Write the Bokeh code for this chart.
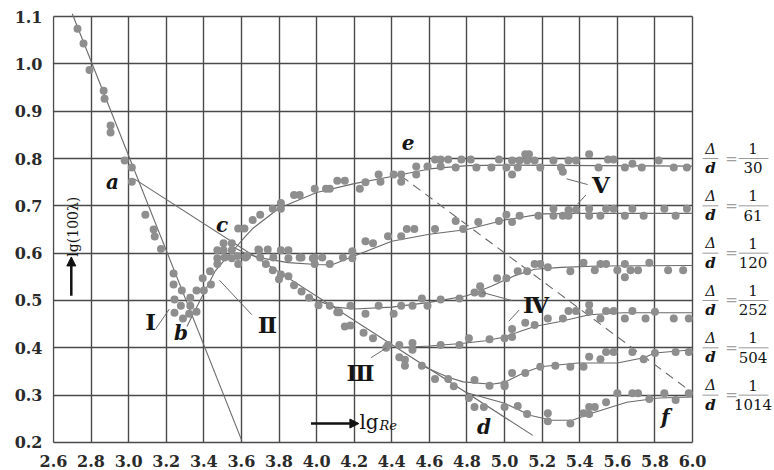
import math
from bokeh.plotting import figure
from bokeh.models import Range1d, FixedTicker, Arrow, NormalHead
from bokeh.core.properties import value
from bokeh.embed import file_html
from bokeh.resources import INLINE

# ---------------- data ----------------
x_ticks = [2.6, 2.8, 3.0, 3.2, 3.4, 3.6, 3.8, 4.0, 4.2, 4.4, 4.6, 4.8, 5.0, 5.2, 5.4, 5.6, 5.8, 6.0]
x_tick_labels = ["2.6", "2.8", "3.0", "3.2", "3.4", "3.6", "3.8", "4.0", "4.2", "4.4",
                 "4.6", "4.8", "5.0", "5.2", "5.4", "5.6", "5.8", "6.0"]
y_ticks = [0.2, 0.3, 0.4, 0.5, 0.6, 0.7, 0.8, 0.9, 1.0, 1.1]
y_tick_labels = ["0.2", "0.3", "0.4", "0.5", "0.6", "0.7", "0.8", "0.9", "1.0", "1.1"]

# straight lines
laminar_x = [2.70, 3.60]
laminar_y = [1.106, 0.206]
blasius_x = [3.03, 5.15]
blasius_y = [0.757, 0.215]
dash_ef_x = [4.45, 6.0]
dash_ef_y = [0.763, 0.305]

# fitted curves per relative roughness
c30_x = [3.31, 3.38, 3.46, 3.53, 3.57, 3.62, 3.66, 3.8, 4.0, 4.2, 4.4, 4.6, 4.8, 5.0, 5.5, 6.0]
c30_y = [0.445, 0.50, 0.562, 0.595, 0.612, 0.635, 0.652, 0.695, 0.728, 0.747, 0.762, 0.778, 0.785, 0.786, 0.785, 0.784]
c61_x = [3.56, 3.62, 3.7, 3.85, 4.0, 4.08, 4.2, 4.4, 4.6, 4.8, 5.0, 5.2, 5.4, 6.0]
c61_y = [0.612, 0.600, 0.590, 0.580, 0.576, 0.575, 0.594, 0.625, 0.640, 0.650, 0.670, 0.683, 0.684, 0.684]
c120_x = [3.97, 4.1, 4.2, 4.4, 4.6, 4.8, 4.93, 5.05, 5.16, 5.3, 5.5, 6.0]
c120_y = [0.505, 0.486, 0.482, 0.486, 0.496, 0.510, 0.530, 0.552, 0.566, 0.570, 0.573, 0.574]
c252_x = [4.43, 4.6, 4.77, 4.9, 5.0, 5.1, 5.16, 5.29, 5.45, 5.63, 6.0]
c252_y = [0.400, 0.404, 0.409, 0.415, 0.423, 0.437, 0.445, 0.455, 0.470, 0.474, 0.474]
c504_x = [4.56, 4.7, 4.78, 4.93, 5.0, 5.1, 5.19, 5.39, 5.6, 5.74, 5.8, 6.0]
c504_y = [0.362, 0.338, 0.328, 0.323, 0.327, 0.347, 0.360, 0.368, 0.368, 0.379, 0.389, 0.396]
c1014_x = [4.8, 5.0, 5.14, 5.25, 5.36, 5.48, 5.65, 5.82, 6.0]
c1014_y = [0.305, 0.283, 0.257, 0.247, 0.247, 0.264, 0.285, 0.294, 0.296]

# measured points
pI_x = [2.728, 2.76, 2.792, 2.867, 2.872, 2.904, 2.904, 2.979, 3.017, 3.017, 3.089,
        3.133, 3.139, 3.172, 3.239, 3.239, 3.283, 3.244, 3.278, 3.244, 3.289]
pI_y = [1.074, 1.043, 0.987, 0.943, 0.926, 0.870, 0.855, 0.796, 0.781, 0.751, 0.681,
        0.650, 0.635, 0.609, 0.557, 0.534, 0.521, 0.502, 0.489, 0.474, 0.462]
pII_x = [3.322, 3.328, 3.328, 3.361, 3.361, 3.394, 3.40, 3.438, 3.433, 3.472,
         3.472, 3.472, 3.505, 3.549, 3.505, 3.549, 3.511, 3.549, 3.583, 3.622]
pII_y = [0.472, 0.506, 0.489, 0.476, 0.521, 0.547, 0.521, 0.534, 0.562, 0.577,
         0.589, 0.606, 0.621, 0.621, 0.606, 0.606, 0.591, 0.589, 0.577, 0.591]
pIII_x = [3.73, 3.767, 3.80, 3.81, 3.85, 3.88, 3.92, 3.96, 4.01, 4.12, 4.15, 4.18,
          4.25, 4.30, 4.37, 4.38, 4.44, 4.47, 4.47, 4.56, 4.63, 4.70, 4.73]
pIII_y = [0.577, 0.564, 0.545, 0.555, 0.551, 0.532, 0.519, 0.506, 0.490, 0.475, 0.445, 0.447,
          0.432, 0.420, 0.400, 0.406, 0.380, 0.375, 0.362, 0.362, 0.334, 0.334, 0.319]
p30_x = [3.583, 3.616, 3.66, 3.70, 3.767, 3.81, 3.81, 3.88, 3.91, 3.99, 4.05, 4.07, 4.11, 4.15,
         4.23, 4.26, 4.33, 4.34, 4.41, 4.45, 4.45, 4.53, 4.53, 4.59, 4.63, 4.66, 4.70, 4.66,
         4.74, 4.77, 4.82, 4.85, 4.93, 4.97, 5.01, 5.04, 5.04, 5.08, 5.07, 5.11, 5.13, 5.12,
         5.16, 5.19, 5.26, 5.30, 5.31, 5.34, 5.38, 5.45, 5.50, 5.55, 5.58, 5.64, 5.68, 5.73,
         5.82, 5.90, 5.97]
p30_y = [0.652, 0.652, 0.670, 0.681, 0.694, 0.706, 0.694, 0.723, 0.723, 0.736, 0.736, 0.736, 0.753, 0.753,
         0.736, 0.750, 0.766, 0.751, 0.766, 0.766, 0.751, 0.783, 0.766, 0.783, 0.798, 0.798, 0.798, 0.783,
         0.781, 0.798, 0.798, 0.781, 0.781, 0.798, 0.781, 0.766, 0.796, 0.796, 0.781, 0.809, 0.809, 0.796,
         0.796, 0.781, 0.796, 0.781, 0.772, 0.796, 0.796, 0.809, 0.781, 0.798, 0.798, 0.781, 0.789, 0.781,
         0.796, 0.781, 0.781]
p61_x = [3.58, 3.63, 3.694, 3.69, 3.74, 3.70, 3.77, 3.81, 3.85, 3.85, 3.91, 3.92, 3.98,
         3.99, 3.99, 4.03, 4.07, 4.14, 4.19, 4.19, 4.26, 4.30, 4.38, 4.45, 4.48, 4.52,
         4.63, 4.74, 4.78, 4.86, 4.97, 5.01, 5.04, 5.08, 5.18, 5.26, 5.26, 5.31, 5.34,
         5.34, 5.38, 5.45, 5.45, 5.51, 5.54, 5.58, 5.64, 5.68, 5.74, 5.85, 5.91, 5.97]
p61_y = [0.594, 0.594, 0.606, 0.608, 0.608, 0.591, 0.591, 0.606, 0.606, 0.589, 0.591, 0.591, 0.589,
         0.591, 0.577, 0.591, 0.577, 0.591, 0.604, 0.589, 0.625, 0.621, 0.636, 0.636, 0.651, 0.651,
         0.651, 0.668, 0.651, 0.666, 0.668, 0.681, 0.666, 0.679, 0.679, 0.694, 0.679, 0.679, 0.691,
         0.679, 0.691, 0.694, 0.679, 0.679, 0.694, 0.694, 0.679, 0.694, 0.679, 0.694, 0.679, 0.694]
p120_x = [4.07, 4.11, 4.18, 4.26, 4.33, 4.41, 4.45, 4.51, 4.56, 4.59, 4.66, 4.76, 4.84, 4.87,
          4.88, 4.96, 5.01, 5.07, 5.12, 5.16, 5.19, 5.23, 5.35, 5.42, 5.48, 5.51, 5.54, 5.60,
          5.64, 5.64, 5.67, 5.71, 5.77, 5.87, 5.95]
p120_y = [0.489, 0.475, 0.489, 0.472, 0.489, 0.472, 0.489, 0.489, 0.504, 0.489, 0.502, 0.504, 0.517, 0.530,
          0.515, 0.547, 0.547, 0.562, 0.562, 0.577, 0.577, 0.570, 0.562, 0.580, 0.564, 0.577, 0.577, 0.564,
          0.577, 0.549, 0.564, 0.564, 0.580, 0.564, 0.564]
p252_x = [4.44, 4.51, 4.51, 4.66, 4.76, 4.81, 4.92, 5.0, 5.04, 5.04, 5.11, 5.16, 5.23, 5.31,
          5.34, 5.38, 5.45, 5.45, 5.51, 5.54, 5.58, 5.64, 5.68, 5.75, 5.80, 5.90, 5.98]
p252_y = [0.406, 0.410, 0.396, 0.406, 0.406, 0.420, 0.418, 0.420, 0.440, 0.423, 0.453, 0.448, 0.462, 0.462,
          0.478, 0.478, 0.491, 0.476, 0.462, 0.478, 0.478, 0.462, 0.478, 0.462, 0.476, 0.462, 0.462]
p504_x = [4.84, 4.92, 5.0, 5.0, 5.04, 5.11, 5.19, 5.27, 5.35, 5.42, 5.45, 5.51, 5.54, 5.58,
          5.68, 5.74, 5.80, 5.91, 5.98]
p504_y = [0.332, 0.320, 0.323, 0.319, 0.347, 0.347, 0.360, 0.362, 0.360, 0.360, 0.381, 0.376, 0.391, 0.391,
          0.391, 0.376, 0.389, 0.391, 0.391]
p1014_x = [4.81, 4.84, 4.89, 5.0, 5.07, 5.12, 5.23, 5.23, 5.35, 5.42, 5.45, 5.45, 5.48, 5.54,
           5.60, 5.68, 5.71, 5.77, 5.85, 5.91, 5.98]
p1014_y = [0.294, 0.275, 0.275, 0.275, 0.277, 0.260, 0.262, 0.245, 0.240, 0.262, 0.275, 0.260, 0.275, 0.285,
           0.304, 0.304, 0.304, 0.292, 0.304, 0.290, 0.304]

# roughness labels (right side)
rough_num = ["1", "1", "1", "1", "1", "1"]
rough_den = ["30", "61", "120", "252", "504", "1014"]
rough_row = [0.8, 0.7, 0.6, 0.5, 0.4, 0.3]

# point letters and region numerals
letters = ["a", "b", "c", "d", "e", "f"]
letters_x = [2.914, 3.278, 3.497, 4.89, 4.487, 5.855]
letters_y = [0.751, 0.432, 0.660, 0.232, 0.833, 0.253]
regions = ["Ⅰ", "Ⅱ", "Ⅲ", "Ⅳ", "Ⅴ"]
regions_x = [3.117, 3.739, 4.233, 5.167, 5.512]
regions_y = [0.456, 0.450, 0.347, 0.492, 0.745]
leaders_xs = [[3.144, 3.217], [3.483, 3.655], [4.289, 4.372], [4.881, 5.039],
              [5.022, 5.078], [5.33, 5.442], [5.389, 5.433]]
leaders_ys = [[0.440, 0.482], [0.543, 0.470], [0.379, 0.400], [0.517, 0.500],
              [0.456, 0.480], [0.757, 0.745], [0.704, 0.723]]

# ---------------- figure ----------------
SERIF = "DejaVu Serif"
p = figure(width=774, height=470, output_backend="svg", toolbar_location=None,
           x_range=Range1d(2.595, 6.436), y_range=Range1d(0.1915, 1.1085),
           min_border_left=52, min_border_right=0, min_border_top=12, min_border_bottom=24)
p.outline_line_color = None
p.background_fill_color = "white"

# axes
p.xaxis.ticker = FixedTicker(ticks=x_ticks)
p.yaxis.ticker = FixedTicker(ticks=y_ticks)
p.xaxis.major_label_overrides = {t: s for t, s in zip(x_ticks, x_tick_labels)}
p.yaxis.major_label_overrides = {t: s for t, s in zip(y_ticks, y_tick_labels)}
p.xaxis.bounds = (2.6, 6.0)
p.yaxis.bounds = (0.2, 1.1)
for ax in (p.xaxis[0], p.yaxis[0]):
    ax.axis_line_color = None
    ax.major_tick_line_color = None
    ax.minor_tick_line_color = None
    ax.major_label_text_font = SERIF
    ax.major_label_text_font_size = "16px"
    ax.major_label_text_font_style = "bold"
    ax.major_label_text_color = "#2a2a2a"
p.xaxis.major_label_standoff = 2
p.yaxis.major_label_standoff = 4

# grid
p.xgrid.ticker = FixedTicker(ticks=x_ticks)
p.ygrid.ticker = FixedTicker(ticks=y_ticks)
for g in (p.xgrid[0], p.ygrid[0]):
    g.grid_line_color = "#4a4a4a"
    g.grid_line_width = 1.4
p.ygrid[0].cross_bounds = (2.6, 6.0)
p.xgrid[0].cross_bounds = (0.2, 1.1)

LINE = "#6a6a6a"
# straight lines and curves
p.line(laminar_x, laminar_y, line_color=LINE, line_width=1.1)
p.line(blasius_x, blasius_y, line_color=LINE, line_width=1.1)
p.line(dash_ef_x, dash_ef_y, line_color=LINE, line_width=1.1, line_dash="9 6")
for cx, cy in [(c30_x, c30_y), (c61_x, c61_y), (c120_x, c120_y),
               (c252_x, c252_y), (c504_x, c504_y), (c1014_x, c1014_y)]:
    p.line(cx, cy, line_color=LINE, line_width=1.1)

# measured points
DOT = "#8e8e8e"
for px, py in [(pI_x, pI_y), (pII_x, pII_y), (pIII_x, pIII_y), (p30_x, p30_y),
               (p61_x, p61_y), (p120_x, p120_y), (p252_x, p252_y),
               (p504_x, p504_y), (p1014_x, p1014_y)]:
    p.scatter(px, py, size=8, fill_color=DOT, line_color=None)

# leader lines
p.multi_line(leaders_xs, leaders_ys, line_color=LINE, line_width=1.0)

# letters
p.text(letters_x, letters_y, text=letters, text_font=value(SERIF), text_font_size="20px",
       text_font_style="bold italic", text_align="center", text_baseline="middle",
       text_color="#151515")
# region numerals
p.text(regions_x, regions_y, text=regions, text_font=value(SERIF), text_font_size="23px",
       text_font_style="bold", text_align="center", text_baseline="middle",
       text_color="#151515")

# axis titles inside the plot
p.text([2.705], [0.656], text=["lg(100λ)"], angle=math.pi / 2, text_font=value(SERIF),
       text_font_size="14px", text_align="center", text_baseline="middle", text_color="#151515")
p.add_layout(Arrow(end=NormalHead(size=9, fill_color="#111111", line_color="#111111"),
                   x_start=2.695, y_start=0.51, x_end=2.695, y_end=0.592,
                   line_color="#111111", line_width=2.5))
p.add_layout(Arrow(end=NormalHead(size=9, fill_color="#111111", line_color="#111111"),
                   x_start=3.97, y_start=0.24, x_end=4.225, y_end=0.24,
                   line_color="#111111", line_width=2.5))
p.text([4.228], [0.243], text=["lg"], text_font=value(SERIF), text_font_size="20px",
       text_align="left", text_baseline="middle", text_color="#151515")
p.text([4.335], [0.236], text=["Re"], text_font=value(SERIF), text_font_size="13px",
       text_font_style="italic", text_align="left", text_baseline="middle", text_color="#151515")

# right side: relative roughness fractions
n = len(rough_row)
up = [r + 0.021 for r in rough_row]
dn = [r - 0.020 for r in rough_row]
p.text([6.096] * n, up, text=["Δ"] * n, text_font=value(SERIF), text_font_size="15px",
       text_font_style="italic", text_align="center", text_baseline="middle", text_color="#151515")
p.text([6.096] * n, dn, text=["d"] * n, text_font=value(SERIF), text_font_size="15px",
       text_font_style="bold italic", text_align="center", text_baseline="middle", text_color="#151515")
p.text([6.207] * n, rough_row, text=["="] * n, text_font=value(SERIF), text_font_size="15px",
       text_align="center", text_baseline="middle", text_color="#a0a0a0")
p.text([6.322] * n, up, text=rough_num, text_font=value(SERIF), text_font_size="15px",
       text_align="center", text_baseline="middle", text_color="#151515")
p.text([6.322] * n, dn, text=rough_den, text_font=value(SERIF), text_font_size="15px",
       text_align="center", text_baseline="middle", text_color="#151515")
p.segment(x0=[6.053] * n, y0=rough_row, x1=[6.138] * n, y1=rough_row,
          line_color="#9a9a9a", line_width=1)
p.segment(x0=[6.245] * n, y0=rough_row, x1=[6.404] * n, y1=rough_row,
          line_color="#9a9a9a", line_width=1)

open("out.html", "w").write(file_html(p, INLINE, "Nikuradse"))
